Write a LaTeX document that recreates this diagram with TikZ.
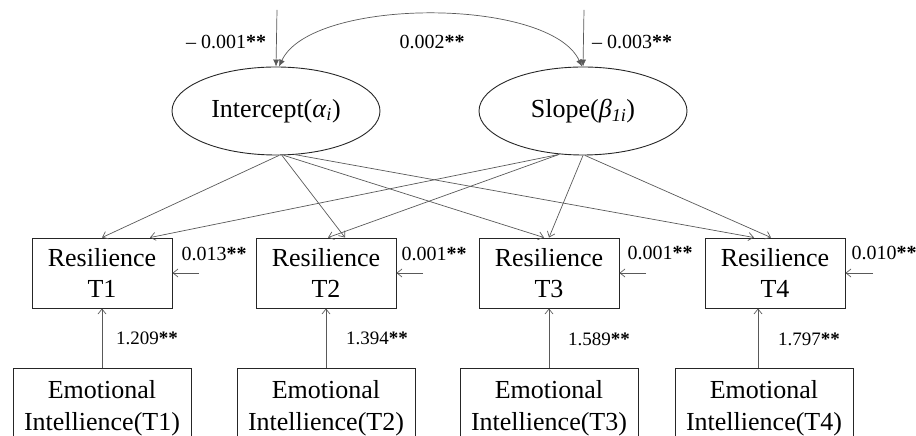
\documentclass[tikz,border=0pt]{standalone}
\usepackage{fontspec}
\setmainfont{Liberation Serif}
\usetikzlibrary{shapes.geometric,arrows.meta}

\begin{document}
\begin{tikzpicture}[x=1pt,y=1pt,->,>={Straight Barb[length=5pt,width=8pt]},
    latent/.style={draw=black!85,line width=0.9pt,ellipse,minimum width=208pt,minimum height=88pt,inner sep=0pt,font=\fontsize{26}{30}\selectfont},
    resbox/.style={draw=black!85,line width=0.9pt,rectangle,align=center,minimum width=140pt,minimum height=70pt,inner sep=2pt,font=\fontsize{26}{31}\selectfont},
    eibox/.style={draw=black!85,line width=0.9pt,rectangle,align=center,minimum height=80pt,inner xsep=11pt,font=\fontsize{26}{32}\selectfont},
    lab/.style={font=\fontsize{20}{24}\selectfont},
    coef/.style={font=\fontsize{19}{22}\selectfont},
    link/.style={draw,black!65,line width=0.7pt}]
      \useasboundingbox (0,0) rectangle (916,436);
      \clip (0,0) rectangle (916,436);

      % latent growth factors
      \node[latent] (icpt) at (276,325) {Intercept(\textit{α}\textsubscript{\textit{i}})};
      \node[latent] (slope) at (583,325) {Slope(\textit{β}\textsubscript{\textit{1i}})};

      % resilience
      \node[resbox] (res1) at (102,163) {Resilience\\T1};
      \node[resbox] (res2) at (326,163) {Resilience\\T2};
      \node[resbox] (res3) at (549,163) {Resilience\\T3};
      \node[resbox] (res4) at (775,163) {Resilience\\T4};

      % emotional intelligence
      \node[eibox] (ei1) at (102,28) {Emotional\\Intellience(T1)};
      \node[eibox] (ei2) at (326,28) {Emotional\\Intellience(T2)};
      \node[eibox] (ei3) at (549,28) {Emotional\\Intellience(T3)};
      \node[eibox] (ei4) at (764,28) {Emotional\\Intellience(T4)};

      % free ends
      \coordinate (vi) at (277,426);
      \coordinate (vs) at (584,426);
      \coordinate (e1) at (199,163);
      \coordinate (e2) at (423,163);
      \coordinate (e3) at (646,163);
      \coordinate (e4) at (873,163);

      % variances and covariance
      \path[link,-{Latex[length=7pt,width=6pt]}] (vi) -- (icpt.north);
      \path[link,-{Latex[length=7pt,width=6pt]}] (vs) -- (slope.north);
      \path[link,{Latex[length=7pt,width=6pt]}-{Latex[length=7pt,width=6pt]}] ([xshift=3pt]icpt.north) to[out=65,in=115,looseness=0.65] ([xshift=-1pt]slope.north);

      % loadings
      \path[link] ([xshift=3pt]icpt.south) -- (res1.north);
      \path[link] ([xshift=6pt]icpt.south) -- ([xshift=19pt]res2.north);
      \path[link] ([xshift=8pt]icpt.south) -- ([xshift=-5pt]res3.north);
      \path[link] ([shift={(18pt,1pt)}]icpt.south) -- ([xshift=-21pt]res4.north);
      \path[link] ([shift={(-24pt,1pt)}]slope.south) -- ([xshift=48pt]res1.north);
      \path[link] ([shift={(-24pt,1pt)}]slope.south) -- ([xshift=2pt]res2.north);
      \path[link] (slope.south) -- (res3.north);
      \path[link] ([xshift=2pt]slope.south) -- ([xshift=-4pt]res4.north);

      % residuals
      \path[link] (e1) -- (res1.east);
      \path[link] (e2) -- (res2.east);
      \path[link] (e3) -- (res3.east);
      \path[link] (e4) -- (res4.east);

      % time-varying covariate
      \path[link] (ei1.north) -- (res1.south);
      \path[link] (ei2.north) -- (res2.south);
      \path[link] (ei3.north) -- (res3.south);
      \path[link] ([xshift=-6pt]ei4.north) -- ([xshift=-17pt]res4.south);

      % estimates
      \node[lab] (vari) at (226,394) {– 0.001\textbf{**}};
      \node[lab] (covis) at (432,394) {0.002\textbf{**}};
      \node[lab] (vars) at (632,394) {– 0.003\textbf{**}};
      \node[lab] (err1) at (214,182) {0.013\textbf{**}};
      \node[lab] (err2) at (434,182) {0.001\textbf{**}};
      \node[lab] (err3) at (660,183) {0.001\textbf{**}};
      \node[lab] (err4) at (884,183) {0.010\textbf{**}};
      \node[coef] (b1) at (147,98) {1.209\textbf{**}};
      \node[coef] (b2) at (377,98) {1.394\textbf{**}};
      \node[coef] (b3) at (599,97) {1.589\textbf{**}};
      \node[coef] (b4) at (809,97) {1.797\textbf{**}};
    \end{tikzpicture}
\end{document}
